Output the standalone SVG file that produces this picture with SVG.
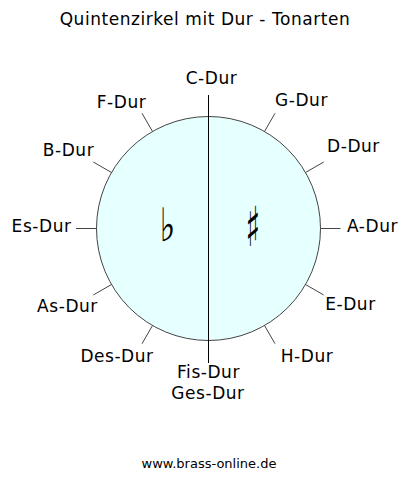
<svg xmlns="http://www.w3.org/2000/svg" width="410" height="478" viewBox="0 0 410 478">
<style>
text{font-family:"DejaVu Sans","Verdana",sans-serif;fill:#000}
.t{font-size:17px;letter-spacing:0.55px}
.lbl{font-size:17px;letter-spacing:0.55px}
.url{font-size:13px}
.tick{stroke:#444;stroke-width:1;fill:none}
.sym{font-size:44px}
</style>
<rect width="410" height="478" fill="#fff"/>
<text class="t" x="205" y="25" text-anchor="middle">Quintenzirkel mit Dur - Tonarten</text>
<g id="circle">
<circle cx="208.5" cy="228.5" r="112" fill="#E6FFFF" stroke="#444" stroke-width="1"/>
<text class="sym" transform="translate(167.5,241) scale(0.75,1.05)" x="0" y="0" text-anchor="middle">♭</text>
<text class="sym" transform="translate(253,246) scale(0.7,1.25)" x="0" y="0" text-anchor="middle">♯</text>
</g>
<g id="connectors">
<line x1="208.5" y1="95" x2="208.5" y2="363" stroke="#000" stroke-width="1"/>
<line class="tick" x1="264.5" y1="131.5" x2="275" y2="113.3"/>
<line class="tick" x1="305.5" y1="172.5" x2="323.7" y2="162"/>
<line class="tick" x1="320.5" y1="228.5" x2="340.5" y2="228.5"/>
<line class="tick" x1="305.5" y1="284.5" x2="323.7" y2="295"/>
<line class="tick" x1="264.5" y1="325.5" x2="275" y2="343.7"/>
<line class="tick" x1="152.5" y1="325.5" x2="142" y2="343.7"/>
<line class="tick" x1="111.5" y1="284.5" x2="93.3" y2="295"/>
<line class="tick" x1="96.5" y1="228.5" x2="76" y2="228.5"/>
<line class="tick" x1="111.5" y1="172.5" x2="93.3" y2="162"/>
<line class="tick" x1="152.5" y1="131.5" x2="142" y2="113.3"/>
</g>
<g id="c-dur"><text class="lbl" x="211.5" y="84" text-anchor="middle">C-Dur</text></g>
<g id="g-dur"><text class="lbl" x="301.5" y="106" text-anchor="middle">G-Dur</text></g>
<g id="d-dur"><text class="lbl" x="353.5" y="151.7" text-anchor="middle">D-Dur</text></g>
<g id="a-dur"><text class="lbl" x="347" y="231.7">A-Dur</text></g>
<g id="e-dur"><text class="lbl" x="350.5" y="310" text-anchor="middle">E-Dur</text></g>
<g id="h-dur"><text class="lbl" x="307" y="361.7" text-anchor="middle">H-Dur</text></g>
<g id="fis-ges-dur">
<text class="lbl" x="208.5" y="377.7" text-anchor="middle">Fis-Dur</text>
<text class="lbl" x="208" y="399" text-anchor="middle">Ges-Dur</text>
</g>
<g id="des-dur"><text class="lbl" x="117" y="361.7" text-anchor="middle">Des-Dur</text></g>
<g id="as-dur"><text class="lbl" x="67.5" y="311.7" text-anchor="middle">As-Dur</text></g>
<g id="es-dur"><text class="lbl" x="71.5" y="231.7" text-anchor="end">Es-Dur</text></g>
<g id="b-dur"><text class="lbl" x="68.5" y="155.7" text-anchor="middle">B-Dur</text></g>
<g id="f-dur"><text class="lbl" x="121.5" y="108.3" text-anchor="middle">F-Dur</text></g>
<text class="url" x="209" y="467.7" text-anchor="middle">www.brass-online.de</text>
</svg>
